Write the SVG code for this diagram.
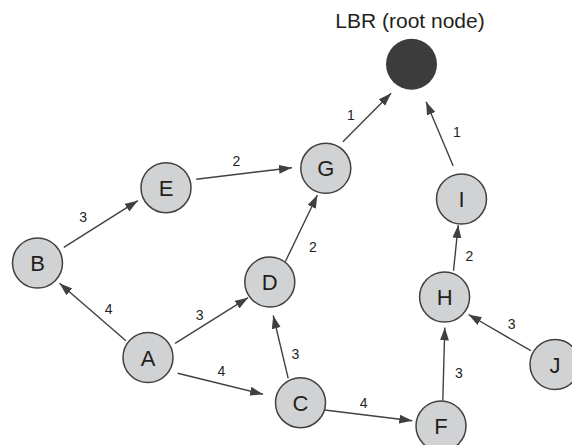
<svg xmlns="http://www.w3.org/2000/svg" width="572" height="445" viewBox="0 0 572 445">
<style>
.n{fill:#d1d2d4;stroke:#404040;stroke-width:1.5}
.root{fill:#3c3c3c}
.nt{font-family:"Liberation Sans",Arial,sans-serif;font-size:22px;fill:#231f20;text-anchor:middle}
.e{stroke:#404040;stroke-width:1.4;fill:none;marker-end:url(#ah)}
.el{font-family:"Liberation Sans",Arial,sans-serif;font-size:14px;fill:#231f20;text-anchor:middle}
.title{font-family:"Liberation Sans",Arial,sans-serif;font-size:21px;fill:#231f20;text-anchor:middle}
</style>
<defs>
<marker id="ah" markerUnits="userSpaceOnUse" markerWidth="14" markerHeight="10" refX="13" refY="4.5" orient="auto">
<path d="M0,0 L13,4.5 L0,9 z" fill="#404040"/>
</marker>
</defs>
<rect width="572" height="445" fill="#ffffff"/>
<g id="connectors">
<line class="e" x1="63.8" y1="247.3" x2="137.9" y2="200.7"/>
<line class="e" x1="196.3" y1="179.3" x2="291.9" y2="167.7"/>
<line class="e" x1="125.9" y1="340.7" x2="59.5" y2="283.3"/>
<line class="e" x1="175.1" y1="343.3" x2="248.1" y2="297.7"/>
<line class="e" x1="177.7" y1="373.3" x2="263" y2="394.3"/>
<line class="e" x1="288.2" y1="378.3" x2="273.2" y2="315.5"/>
<line class="e" x1="285.3" y1="261.7" x2="317.4" y2="195"/>
<line class="e" x1="342.9" y1="141.7" x2="391.1" y2="93.3"/>
<line class="e" x1="453.1" y1="165.7" x2="426.1" y2="101.7"/>
<line class="e" x1="453.5" y1="270.7" x2="458.2" y2="225"/>
<line class="e" x1="442.8" y1="400.5" x2="444.8" y2="327.5"/>
<line class="e" x1="530.8" y1="350.7" x2="468.5" y2="314.5"/>
<line class="e" x1="324.7" y1="410" x2="412.3" y2="420.7"/>
<text class="el" x="83.2" y="222.3">3</text>
<text class="el" x="236.4" y="165.7">2</text>
<text class="el" x="108.7" y="314">4</text>
<text class="el" x="199.6" y="320">3</text>
<text class="el" x="221.5" y="375.7">4</text>
<text class="el" x="295.5" y="358.5">3</text>
<text class="el" x="313" y="251.7">2</text>
<text class="el" x="351" y="120">1</text>
<text class="el" x="456.8" y="136.7">1</text>
<text class="el" x="469.5" y="260.7">2</text>
<text class="el" x="458.8" y="378.3">3</text>
<text class="el" x="511.6" y="329">3</text>
<text class="el" x="363.7" y="407.7">4</text>
</g>
<g id="root">
<circle class="root" cx="411.5" cy="64.3" r="25.5"/>
<text class="title" x="410" y="28">LBR (root node)</text>
</g>
<g id="B"><circle class="n" cx="37.5" cy="263" r="25"/><text class="nt" x="37.5" y="271">B</text></g>
<g id="E"><circle class="n" cx="166" cy="187.7" r="25"/><text class="nt" x="166" y="195.7">E</text></g>
<g id="G"><circle class="n" cx="325.8" cy="168.3" r="25"/><text class="nt" x="325.8" y="176.3">G</text></g>
<g id="D"><circle class="n" cx="269.8" cy="282" r="25"/><text class="nt" x="269.8" y="290">D</text></g>
<g id="A"><circle class="n" cx="148" cy="357.5" r="25"/><text class="nt" x="148" y="365.5">A</text></g>
<g id="C"><circle class="n" cx="300.5" cy="402.7" r="25"/><text class="nt" x="300.5" y="410.7">C</text></g>
<g id="F"><circle class="n" cx="441" cy="426" r="25"/><text class="nt" x="441" y="434">F</text></g>
<g id="H"><circle class="n" cx="444.6" cy="297" r="25"/><text class="nt" x="444.6" y="305">H</text></g>
<g id="I"><circle class="n" cx="461.5" cy="199" r="25"/><text class="nt" x="461.5" y="207">I</text></g>
<g id="J"><circle class="n" cx="555" cy="364.5" r="25"/><text class="nt" x="555" y="372.5">J</text></g>
</svg>
